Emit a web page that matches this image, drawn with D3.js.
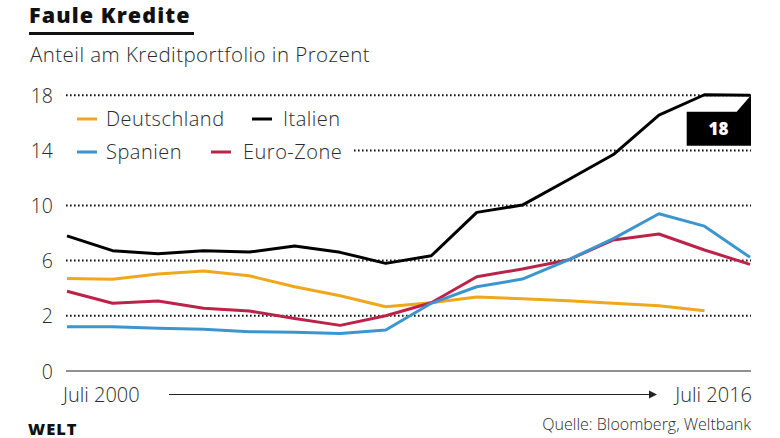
<!DOCTYPE html>
<html><head><meta charset="utf-8">
<script src="https://cdn.jsdelivr.net/npm/d3@7/dist/d3.min.js"></script>
<style>
html,body{margin:0;padding:0;background:#fff;}
svg{display:block;font-family:"Open Sans","Noto Sans",sans-serif;}
</style></head>
<body>
<script>
const years = [2000,2001,2002,2003,2004,2005,2006,2007,2008,2009,2010,2011,2012,2013,2014,2015];
const deutschland = [4.7,4.64,5.03,5.24,4.9,4.1,3.45,2.65,2.94,3.36,3.23,3.09,2.9,2.73,2.36,null];
const italien = [7.8,6.72,6.5,6.72,6.62,7.06,6.6,5.8,6.35,9.5,10.03,11.85,13.7,16.56,18.04,18.0];
const spanien = [1.6,1.6,1.55,1.51,1.42,1.4,1.36,1.48,2.9,4.1,4.66,6.04,7.6,9.4,8.5,6.24];
const eurozone = [3.77,2.9,3.07,2.54,2.34,1.9,1.65,2.0,2.94,4.83,5.39,6.04,7.5,7.93,6.77,5.73];
const yTicks = [0,2,6,10,14,18];
const seriesNames = ["Deutschland","Italien","Spanien","Euro-Zone"];
const seriesColors = ["#efa71c","#000000","#3b96cf","#bb2349"];

const W=780,H=438;
const svg=d3.select("body").append("svg").attr("width",W).attr("height",H);

const x=d3.scalePoint().domain(years).range([67,750]);
const y=d3.scaleLinear().domain([0,2,18]).range([371,315.7,95.3]);

const txt="#2b2b2b";

// title
svg.append("text").attr("x",29).attr("y",23).text("Faule Kredite")
  .attr("font-size",21.5).attr("font-weight",800).attr("fill","#111").attr("letter-spacing",1.1);
svg.append("rect").attr("x",29).attr("y",32).attr("width",165).attr("height",3).attr("fill","#111");
svg.append("text").attr("x",30).attr("y",62).text("Anteil am Kreditportfolio in Prozent")
  .attr("font-size",20.5).attr("font-weight",300).attr("fill",txt).attr("letter-spacing",0.45);

// grid
const gridX0=66, gridX1=751;
yTicks.filter(d=>d>0).forEach(t=>{
  svg.append("line").attr("x1",gridX0).attr("x2",gridX1).attr("y1",y(t)).attr("y2",y(t))
    .attr("stroke","#111").attr("stroke-width",2).attr("stroke-dasharray","1.6,2.4");
});
svg.append("line").attr("x1",gridX0).attr("x2",gridX1).attr("y1",y(0)).attr("y2",y(0))
  .attr("stroke","#222").attr("stroke-width",1.2);

// y labels
const yAxis=d3.axisLeft(y).tickValues(yTicks).tickSize(0).tickPadding(0).tickFormat(d3.format("d"));
const ya=svg.append("g").attr("transform","translate(53,0)").call(yAxis);
ya.select(".domain").remove();
ya.selectAll("text").attr("font-size",19.5).attr("font-weight",300).attr("fill",txt)
  .attr("font-family","'Open Sans','Noto Sans',sans-serif").attr("dy","0.36em");

// legend background
svg.append("rect").attr("x",62).attr("y",104).attr("width",290).attr("height",62).attr("fill","#fff");

// lines
const allSeries=[deutschland,italien,spanien,eurozone];
const drawOrder=[0,3,2,1];
const line=d3.line().defined(d=>d!=null).x((d,i)=>x(years[i])).y(d=>y(d));
drawOrder.forEach(k=>{
  svg.append("path").datum(allSeries[k]).attr("d",line)
    .attr("fill","none").attr("stroke",seriesColors[k]).attr("stroke-width",3)
    .attr("stroke-linejoin","round");
});

// legend
const legPos=[[77,119,106],[252,119,283],[77,152,106],[211,152,243]];
seriesNames.forEach((n,k)=>{
  const [lx,ly,tx]=legPos[k];
  svg.append("line").attr("x1",lx).attr("x2",lx+20).attr("y1",ly).attr("y2",ly)
    .attr("stroke",seriesColors[k]).attr("stroke-width",3);
  svg.append("text").attr("x",tx).attr("y",ly+7).text(n)
    .attr("font-size",20).attr("font-weight",300).attr("fill",txt).attr("letter-spacing",0.5);
});

// end label box
const ex=x(years[15]), ey=y(italien[15]);
svg.append("path").attr("d",`M686.7,111.7 L736.7,111.7 L${ex+1},${ey} L${ex+1},145.7 L686.7,145.7 Z`).attr("fill","#000");
svg.append("text").attr("x",718.5).attr("y",135).attr("text-anchor","middle").text("18")
  .attr("font-size",17).attr("font-weight",800).attr("fill","#fff");

// x axis labels
svg.append("text").attr("x",63).attr("y",401.5).text("Juli 2000")
  .attr("font-size",20).attr("font-weight",300).attr("fill",txt);
svg.append("text").attr("x",752).attr("y",401.5).attr("text-anchor","end").text("Juli 2016")
  .attr("font-size",20).attr("font-weight",300).attr("fill",txt);
svg.append("line").attr("x1",169).attr("x2",651).attr("y1",394.5).attr("y2",394.5)
  .attr("stroke","#222").attr("stroke-width",1.2);
svg.append("path").attr("d","M649,390.5 L657,394.5 L649,398.5 Z").attr("fill","#222");

// footer
svg.append("text").attr("x",28).attr("y",434.5).text("WELT")
  .attr("font-size",16.5).attr("font-weight",800).attr("fill","#111").attr("letter-spacing",1);
svg.append("text").attr("x",751).attr("y",430).attr("text-anchor","end").text("Quelle: Bloomberg, Weltbank")
  .attr("font-size",16).attr("font-weight",300).attr("fill",txt);
</script>
</body></html>
